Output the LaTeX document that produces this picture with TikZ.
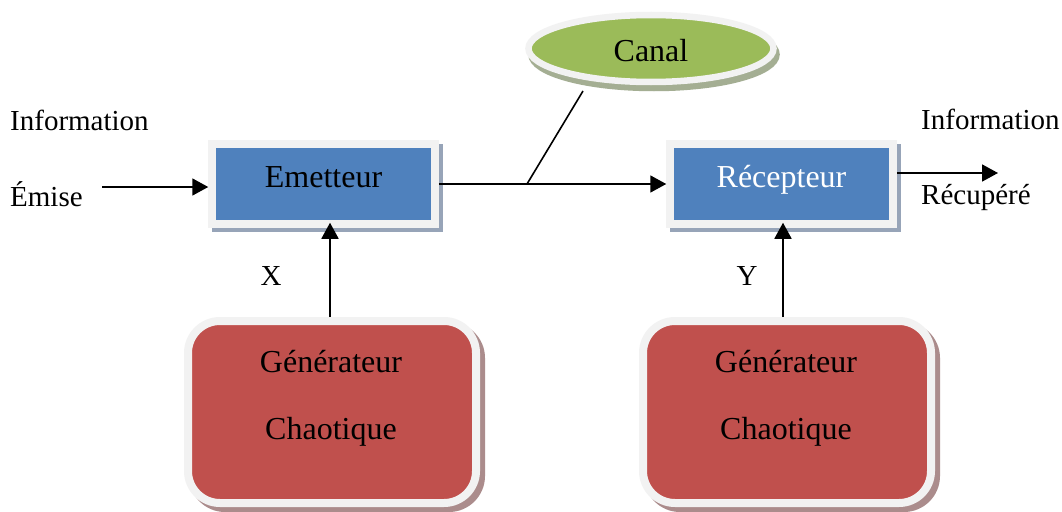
\documentclass[tikz,border=0pt]{standalone}
\usepackage{fontspec}
\setmainfont{Liberation Serif}
\usetikzlibrary{shapes.geometric,shadows,arrows.meta}
\definecolor{boxblue}{HTML}{4F81BD}
\definecolor{boxgreen}{HTML}{9BBB59}
\definecolor{boxred}{HTML}{C0504D}
\definecolor{framegray}{HTML}{F2F2F2}
\definecolor{shblue}{HTML}{97A4B8}
\definecolor{shgreen}{HTML}{A4AE93}
\definecolor{shred}{HTML}{AB8C8C}
\begin{document}
\begin{tikzpicture}[x=1pt,y=-1pt,
  lbl/.style={font=\fontsize{29}{34}\selectfont, inner sep=0pt},
  gtxt/.style={font=\fontsize{32}{38}\selectfont, inner sep=0pt, anchor=base},
  blockbox/.style={rectangle, fill=boxblue, draw=framegray, line width=7.5pt,
    minimum width=223pt, minimum height=80pt, inner sep=0pt,
    text height=21pt, text depth=15pt, font=\fontsize{32}{38}\selectfont,
    drop shadow={shadow xshift=4pt, shadow yshift=-4pt, fill=shblue,
      draw=shblue, line width=7.5pt, opacity=1}},
  chanbox/.style={ellipse, fill=boxgreen, draw=framegray, line width=6.5pt,
    minimum width=245pt, minimum height=67pt, inner sep=0pt,
    text height=34pt, text depth=7pt, font=\fontsize{32}{38}\selectfont,
    drop shadow={shadow xshift=3pt, shadow yshift=-6pt, fill=shgreen,
      draw=shgreen, line width=6.5pt, opacity=1}},
  genbox/.style={rectangle, rounded corners=32pt, fill=boxred, draw=framegray,
    line width=8pt, minimum width=288pt, minimum height=182pt, inner sep=0pt,
    drop shadow={shadow xshift=5pt, shadow yshift=-5pt, fill=shred,
      draw=shred, line width=8pt, opacity=1}},
  conn/.style={line width=1.8pt, -{Triangle[length=16pt,width=17pt]}},
  plain/.style={line width=1.6pt},
]
\useasboundingbox[fill=white] (0,0) rectangle (1062,511);

% blocks
\node[blockbox] (em) at (323.5,184) {Emetteur};
\node[blockbox, text=white] (rc) at (781.5,184) {Récepteur};
\node[chanbox] (ch) at (651,48.5) {Canal};
\node[genbox] (g1) at (332,412) {};
\node[genbox] (g2) at (787,412) {};
\node[gtxt] (g1a) at (331,372) {Générateur};
\node[gtxt] (g1b) at (331,439) {Chaotique};
\node[gtxt] (g2a) at (786,372) {Générateur};
\node[gtxt] (g2b) at (786,439) {Chaotique};

% side labels
\node[lbl, anchor=base west] (infL) at (10,130) {Information};
\node[lbl, anchor=base west] (emise) at (10,206) {Émise};
\node[lbl, anchor=base west] (infR) at (921,129) {Information};
\node[lbl, anchor=base west] (recup) at (921,204) {Récupéré};
\node[lbl, anchor=base] (xl) at (271,285) {X};
\node[lbl, anchor=base] (yl) at (747,285) {Y};

% connectors
\coordinate (inL) at (102,187);
\draw[conn] (inL) -- (inL -| em.west);
\draw[conn] (em.east) -- (rc.west);
\coordinate (jn) at (527,184);
\coordinate (chb) at (583,91);
\draw[plain] (jn) -- (chb);
\coordinate (out) at (998,173);
\draw[conn] (out -| rc.east) -- (out);
\draw[conn] ([xshift=-2pt]g1.north) -- ([xshift=-2pt,yshift=5pt]g1.north |- em.south);
\draw[conn] ([xshift=-4pt]g2.north) -- ([xshift=-4pt,yshift=5pt]g2.north |- rc.south);
\end{tikzpicture}
\end{document}
